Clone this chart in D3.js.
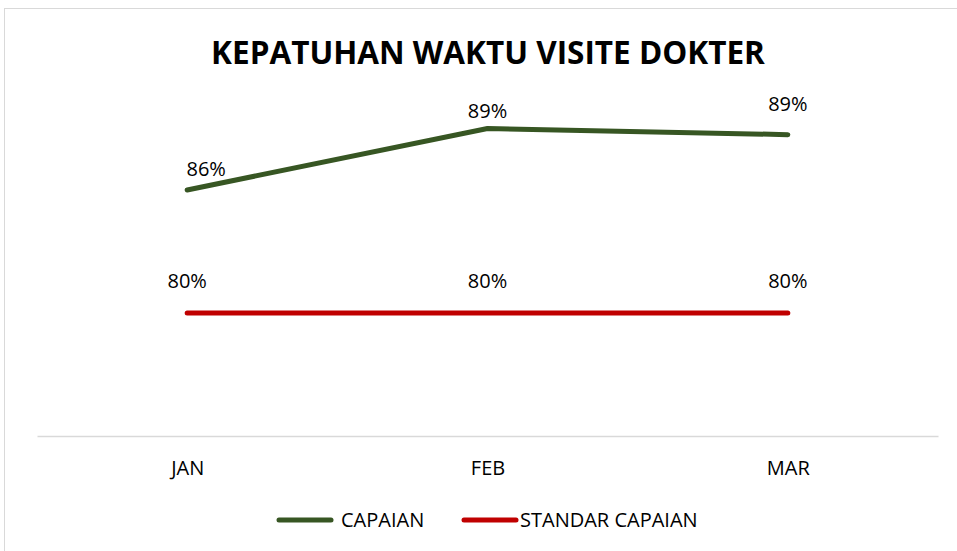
<!DOCTYPE html>
<html>
<head>
<meta charset="utf-8">
<script src="https://cdn.jsdelivr.net/npm/d3@7"></script>
<style>
  body { margin: 0; background: #fff; }
  text { font-family: "Open Sans", "Liberation Sans", sans-serif; fill: #000; }
</style>
</head>
<body>
<div id="chart"></div>
<script>
var months = ["JAN", "FEB", "MAR"];
var capaian = [86, 89, 88.7];
var standar = [80, 80, 80];
var seriesNames = ["CAPAIAN", "STANDAR CAPAIAN"];
var title = "KEPATUHAN WAKTU VISITE DOKTER";

var width = 957, height = 551;
var colors = ["#375623", "#c00000"];

var svg = d3.select("#chart")
    .append("svg")
    .attr("width", width)
    .attr("height", height);

// chart border
svg.append("rect")
    .attr("x", 4.5).attr("y", 8.5)
    .attr("width", width).attr("height", height)
    .attr("fill", "#fff")
    .attr("stroke", "#d9d9d9");

svg.append("text")
    .attr("x", 488).attr("y", 64)
    .attr("text-anchor", "middle")
    .style("font-size", "31.5px")
    .style("font-weight", "bold")
    .text(title);

var x = d3.scalePoint()
    .domain(months)
    .range([37, 938])
    .padding(0.5);

var y = d3.scaleLinear()
    .domain([74, 92])
    .range([436, 67]);

// category axis
var xAxis = svg.append("g")
    .attr("transform", "translate(0,436)")
    .call(d3.axisBottom(x).tickSize(0).tickPadding(0));
xAxis.select(".domain").attr("stroke", "#d9d9d9").attr("stroke-width", 1.5);
xAxis.selectAll("text")
    .attr("dy", null)
    .attr("y", 39)
    .style("font-size", "20px")
    .style("font-family", "'Open Sans', sans-serif")
    .attr("fill", "#000");

var line = d3.line()
    .x(function (d, i) { return x(months[i]); })
    .y(function (d) { return y(d); });

var series = [capaian, standar];

series.forEach(function (s, k) {
    svg.append("path")
        .datum(s)
        .attr("fill", "none")
        .attr("stroke", colors[k])
        .attr("stroke-width", 5)
        .attr("stroke-linecap", "round")
        .attr("stroke-linejoin", "round")
        .attr("d", line);
});

// data labels (excel placed them a bit unevenly)
var labelShift = [
    [[19, -14], [0, -11], [0, -24]],
    [[0, -25], [0, -25], [0, -25]]
];

series.forEach(function (s, k) {
    svg.append("g")
        .selectAll("text")
        .data(s)
        .enter()
        .append("text")
        .attr("text-anchor", "middle")
        .style("font-size", "20px")
        .attr("x", function (d, i) { return x(months[i]) + labelShift[k][i][0]; })
        .attr("y", function (d, i) { return y(d) + labelShift[k][i][1]; })
        .text(function (d) { return Math.round(d) + "%"; });
});

// legend
var legendX = [277, 462];
seriesNames.forEach(function (name, k) {
    var g = svg.append("g").attr("transform", "translate(" + legendX[k] + ",520)");
    g.append("line")
        .attr("x1", 2).attr("x2", 54)
        .attr("stroke", colors[k])
        .attr("stroke-width", 5)
        .attr("stroke-linecap", "round");
    g.append("text")
        .attr("x", k === 0 ? 64 : 58)
        .attr("y", 7)
        .style("font-size", "20px")
        .text(name);
});
</script>
</body>
</html>
